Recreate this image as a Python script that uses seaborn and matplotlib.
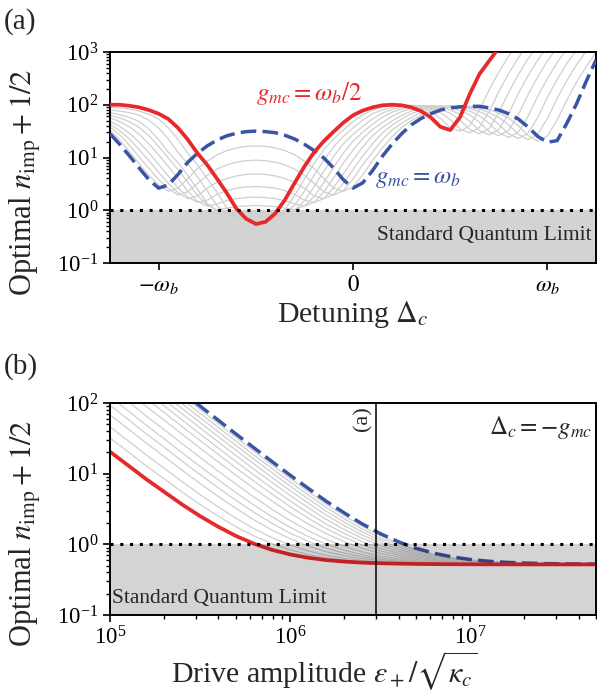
import numpy as np
import matplotlib
matplotlib.use("Agg")
import matplotlib.pyplot as plt
import seaborn as sns

# ---------------- panel (a): detuning scan (values are log10 of n_imp + 1/2) ----------------
detuning = [-1.25, -1.2, -1.15, -1.1, -1.05, -1.0, -0.95, -0.9, -0.85, -0.8,
            -0.75, -0.7, -0.65, -0.6, -0.55, -0.5, -0.45, -0.4, -0.35, -0.3,
            -0.25, -0.2, -0.15, -0.1, -0.05, 0.0, 0.05, 0.1, 0.15, 0.2,
            0.25, 0.3, 0.35, 0.4, 0.45, 0.5, 0.55, 0.6, 0.65, 0.7,
            0.75, 0.8, 0.85, 0.9, 0.95, 1.0, 1.05, 1.1, 1.15, 1.2, 1.25]

red_a = [2.00, 2.00, 1.98, 1.95, 1.90, 1.83, 1.73, 1.56, 1.34, 1.08,
         0.86, 0.60, 0.33, 0.03, -0.16, -0.26, -0.22, -0.06, 0.20, 0.52,
         0.83, 1.10, 1.31, 1.49, 1.66, 1.80, 1.89, 1.95, 1.99, 2.00,
         1.99, 1.95, 1.88, 1.76, 1.58, 1.52, 1.76, 2.20, 2.58, 2.83,
         3.08, 3.30, 3.50, 3.70, 3.88, 4.05, 4.20, 4.35, 4.50, 4.65, 4.80]

blue_a = [1.45, 1.25, 1.03, 0.80, 0.58, 0.42, 0.48, 0.68, 0.91, 1.08,
          1.22, 1.33, 1.41, 1.46, 1.49, 1.50, 1.49, 1.47, 1.42, 1.35,
          1.25, 1.13, 0.99, 0.80, 0.58, 0.42, 0.52, 0.75, 1.02, 1.25,
          1.45, 1.62, 1.74, 1.83, 1.90, 1.94, 1.96, 1.97, 1.97, 1.94,
          1.90, 1.83, 1.73, 1.58, 1.40, 1.29, 1.32, 1.65, 2.02, 2.45, 2.85]

gray_a_055 = [1.95, 1.94, 1.92, 1.88, 1.82, 1.73, 1.56, 1.34, 1.08, 0.86,
              0.60, 0.34, 0.05, -0.12, -0.20, -0.19, -0.20, -0.15, 0.02, 0.28,
              0.59, 0.89, 1.15, 1.35, 1.52, 1.68, 1.81, 1.90, 1.95, 1.99,
              1.99, 1.98, 1.94, 1.87, 1.74, 1.56, 1.50, 1.60, 1.90, 2.28,
              2.62, 2.92, 3.18, 3.40, 3.60, 3.78, 3.95, 4.10, 4.25, 4.40, 4.55]
gray_a_060 = [1.90, 1.88, 1.85, 1.80, 1.71, 1.56, 1.35, 1.10, 0.88, 0.63,
              0.37, 0.09, -0.07, -0.13, -0.12, -0.11, -0.12, -0.13, -0.07, 0.10,
              0.36, 0.67, 0.95, 1.20, 1.40, 1.56, 1.71, 1.83, 1.90, 1.95,
              1.99, 1.99, 1.97, 1.93, 1.85, 1.72, 1.54, 1.47, 1.57, 1.87,
              2.25, 2.59, 2.89, 3.15, 3.37, 3.57, 3.75, 3.92, 4.07, 4.22, 4.37]
gray_a_065 = [1.85, 1.81, 1.76, 1.68, 1.54, 1.34, 1.10, 0.90, 0.66, 0.40,
              0.13, -0.02, -0.06, -0.04, -0.03, -0.02, -0.03, -0.04, -0.06, 0.00,
              0.18, 0.45, 0.74, 1.02, 1.26, 1.44, 1.59, 1.73, 1.84, 1.91,
              1.96, 1.98, 1.98, 1.96, 1.91, 1.84, 1.71, 1.53, 1.45, 1.55,
              1.85, 2.23, 2.57, 2.87, 3.13, 3.35, 3.55, 3.73, 3.90, 4.05, 4.20]
gray_a_070 = [1.80, 1.75, 1.68, 1.57, 1.41, 1.21, 0.99, 0.77, 0.53, 0.28,
              0.10, 0.01, 0.04, 0.07, 0.08, 0.09, 0.08, 0.07, 0.04, 0.01,
              0.08, 0.26, 0.53, 0.81, 1.08, 1.31, 1.48, 1.63, 1.76, 1.86,
              1.92, 1.96, 1.98, 1.98, 1.95, 1.90, 1.82, 1.69, 1.51, 1.43,
              1.53, 1.83, 2.21, 2.55, 2.85, 3.11, 3.33, 3.53, 3.71, 3.88, 4.03]
gray_a_075 = [1.75, 1.68, 1.58, 1.44, 1.26, 1.05, 0.83, 0.60, 0.36, 0.17,
              0.08, 0.12, 0.18, 0.22, 0.24, 0.25, 0.24, 0.22, 0.18, 0.12,
              0.08, 0.15, 0.35, 0.61, 0.89, 1.14, 1.36, 1.53, 1.66, 1.78,
              1.87, 1.93, 1.96, 1.98, 1.97, 1.95, 1.89, 1.81, 1.67, 1.49,
              1.41, 1.51, 1.81, 2.19, 2.53, 2.83, 3.09, 3.31, 3.51, 3.69, 3.86]
gray_a_080 = [1.69, 1.59, 1.46, 1.29, 1.09, 0.87, 0.65, 0.43, 0.25, 0.15,
              0.19, 0.30, 0.37, 0.42, 0.44, 0.45, 0.44, 0.42, 0.37, 0.30,
              0.19, 0.15, 0.22, 0.43, 0.69, 0.96, 1.20, 1.41, 1.57, 1.69,
              1.80, 1.88, 1.93, 1.96, 1.98, 1.96, 1.94, 1.88, 1.79, 1.65,
              1.47, 1.38, 1.48, 1.78, 2.16, 2.50, 2.80, 3.06, 3.28, 3.48, 3.66]
gray_a_085 = [1.63, 1.51, 1.35, 1.15, 0.94, 0.72, 0.51, 0.33, 0.22, 0.27,
              0.42, 0.53, 0.60, 0.65, 0.68, 0.69, 0.68, 0.65, 0.60, 0.53,
              0.42, 0.27, 0.22, 0.30, 0.51, 0.77, 1.03, 1.26, 1.46, 1.61,
              1.73, 1.83, 1.90, 1.94, 1.96, 1.98, 1.96, 1.93, 1.87, 1.78,
              1.63, 1.45, 1.36, 1.46, 1.76, 2.14, 2.48, 2.78, 3.04, 3.26, 3.46]
gray_a_090 = [1.58, 1.43, 1.23, 1.01, 0.79, 0.58, 0.41, 0.29, 0.35, 0.51,
              0.66, 0.78, 0.86, 0.91, 0.94, 0.95, 0.94, 0.91, 0.86, 0.78,
              0.66, 0.51, 0.35, 0.29, 0.37, 0.59, 0.86, 1.10, 1.33, 1.52,
              1.65, 1.76, 1.85, 1.91, 1.95, 1.97, 1.97, 1.95, 1.92, 1.85,
              1.76, 1.62, 1.44, 1.34, 1.44, 1.74, 2.12, 2.46, 2.76, 3.02, 3.24]
gray_a_095 = [1.52, 1.33, 1.11, 0.88, 0.66, 0.48, 0.36, 0.42, 0.60, 0.79,
              0.93, 1.05, 1.13, 1.18, 1.21, 1.22, 1.21, 1.18, 1.13, 1.05,
              0.93, 0.79, 0.60, 0.42, 0.36, 0.45, 0.67, 0.94, 1.18, 1.39,
              1.57, 1.70, 1.80, 1.88, 1.93, 1.95, 1.97, 1.97, 1.95, 1.91,
              1.84, 1.75, 1.60, 1.42, 1.31, 1.41, 1.71, 2.09, 2.43, 2.73, 2.99]
gray_a = [gray_a_055, gray_a_060, gray_a_065, gray_a_070, gray_a_075,
          gray_a_080, gray_a_085, gray_a_090, gray_a_095]

# ---------------- panel (b): drive-amplitude scan at Delta_c = -g_mc ----------------
drive = [1.00e5, 1.26e5, 1.58e5, 2.00e5, 2.51e5, 3.16e5, 3.98e5, 5.01e5, 6.31e5, 7.94e5,
         1.00e6, 1.26e6, 1.58e6, 2.00e6, 2.51e6, 3.16e6, 3.98e6, 5.01e6, 6.31e6, 7.94e6,
         1.00e7, 1.26e7, 1.58e7, 2.00e7, 2.51e7, 3.16e7, 3.98e7, 5.01e7]

red_b = [20.4, 13.1, 8.44, 5.52, 3.67, 2.51, 1.78, 1.31, 1.02, 0.835,
         0.719, 0.646, 0.599, 0.570, 0.551, 0.540, 0.533, 0.528, 0.525, 0.523,
         0.522, 0.521, 0.521, 0.520, 0.520, 0.520, 0.520, 0.520]
blue_b = [901, 569, 359, 227, 143, 90.5, 57.3, 36.3, 23.1, 14.8,
          9.52, 6.20, 4.10, 2.78, 1.95, 1.42, 1.09, 0.878, 0.746, 0.663,
          0.610, 0.577, 0.556, 0.543, 0.534, 0.529, 0.526, 0.524]

gray_b_01 = [32.0, 20.4, 13.0, 8.43, 5.50, 3.67, 2.51, 1.77, 1.31, 1.02,
             0.835, 0.719, 0.645, 0.599, 0.570, 0.552, 0.540, 0.533, 0.528, 0.525,
             0.523, 0.522, 0.521, 0.521, 0.521, 0.520, 0.520, 0.520]
gray_b_02 = [46.0, 29.2, 18.6, 11.9, 7.73, 5.07, 3.39, 2.33, 1.66, 1.24,
             0.975, 0.807, 0.701, 0.634, 0.592, 0.566, 0.549, 0.538, 0.531, 0.527,
             0.525, 0.523, 0.522, 0.521, 0.521, 0.520, 0.520, 0.520]
gray_b_03 = [68.0, 43.1, 27.4, 17.4, 11.2, 7.27, 4.78, 3.21, 2.21, 1.59,
             1.20, 0.946, 0.789, 0.689, 0.627, 0.588, 0.563, 0.547, 0.537, 0.531,
             0.527, 0.524, 0.523, 0.522, 0.521, 0.521, 0.520, 0.520]
gray_b_04 = [92.5, 58.6, 37.1, 23.6, 15.1, 9.72, 6.33, 4.18, 2.83, 1.98,
             1.44, 1.10, 0.886, 0.751, 0.666, 0.612, 0.578, 0.557, 0.543, 0.535,
             0.529, 0.526, 0.524, 0.522, 0.522, 0.521, 0.521, 0.520]
gray_b_05 = [123, 77.5, 49.1, 31.1, 19.8, 12.7, 8.22, 5.38, 3.58, 2.45,
             1.74, 1.29, 1.01, 0.826, 0.713, 0.642, 0.597, 0.569, 0.551, 0.539,
             0.532, 0.528, 0.525, 0.523, 0.522, 0.521, 0.521, 0.521]
gray_b_06 = [166, 105, 66.2, 41.9, 26.6, 17.0, 10.9, 7.09, 4.66, 3.13,
             2.17, 1.56, 1.18, 0.934, 0.781, 0.685, 0.624, 0.586, 0.561, 0.546,
             0.537, 0.530, 0.527, 0.524, 0.523, 0.522, 0.521, 0.521]
gray_b_07 = [226, 143, 90.1, 57.0, 36.2, 23.0, 14.7, 9.48, 6.17, 4.09,
             2.77, 1.94, 1.42, 1.09, 0.877, 0.745, 0.662, 0.610, 0.577, 0.556,
             0.543, 0.534, 0.529, 0.526, 0.524, 0.522, 0.521, 0.521]
gray_b_08 = [291, 184, 116, 73.3, 46.5, 29.5, 18.8, 12.0, 7.80, 5.12,
             3.42, 2.35, 1.67, 1.25, 0.980, 0.810, 0.703, 0.635, 0.593, 0.566,
             0.549, 0.538, 0.532, 0.527, 0.525, 0.523, 0.522, 0.521]
gray_b_09 = [361, 228, 144, 90.9, 57.6, 36.5, 23.2, 14.8, 9.56, 6.23,
             4.12, 2.79, 1.95, 1.42, 1.09, 0.880, 0.747, 0.663, 0.610, 0.577,
             0.556, 0.543, 0.534, 0.529, 0.526, 0.524, 0.522, 0.521]
gray_b_10 = [441, 279, 176, 111, 70.2, 44.5, 28.3, 18.0, 11.5, 7.49,
             4.92, 3.30, 2.27, 1.62, 1.22, 0.960, 0.798, 0.695, 0.630, 0.590,
             0.564, 0.548, 0.538, 0.531, 0.527, 0.524, 0.523, 0.522]
gray_b_11 = [526, 332, 210, 132, 83.7, 53.0, 33.6, 21.4, 13.7, 8.84,
             5.77, 3.83, 2.61, 1.84, 1.35, 1.05, 0.851, 0.729, 0.652, 0.603,
             0.573, 0.553, 0.541, 0.533, 0.528, 0.525, 0.523, 0.522]
gray_b_12 = [616, 389, 245, 155, 98.0, 62.0, 39.3, 25.0, 15.9, 10.3,
             6.67, 4.40, 2.97, 2.06, 1.50, 1.14, 0.908, 0.765, 0.674, 0.618,
             0.582, 0.559, 0.545, 0.535, 0.530, 0.526, 0.524, 0.522]
gray_b_13 = [711, 449, 283, 179, 113, 71.5, 45.3, 28.8, 18.3, 11.8,
             7.62, 5.00, 3.35, 2.30, 1.65, 1.23, 0.968, 0.803, 0.698, 0.633,
             0.591, 0.565, 0.548, 0.538, 0.531, 0.527, 0.524, 0.523]
gray_b_14 = [806, 509, 321, 203, 128, 81.0, 51.3, 32.5, 20.7, 13.3,
             8.57, 5.60, 3.72, 2.54, 1.80, 1.33, 1.03, 0.840, 0.722, 0.648,
             0.601, 0.571, 0.552, 0.540, 0.533, 0.528, 0.525, 0.523]
gray_b = [gray_b_01, gray_b_02, gray_b_03, gray_b_04, gray_b_05, gray_b_06, gray_b_07,
          gray_b_08, gray_b_09, gray_b_10, gray_b_11, gray_b_12, gray_b_13, gray_b_14]

RED = "#e8292b"
BLUE = "#3a54a4"
GRAY = "#cfcfcf"
SQL_GRAY = "#d3d3d3"

sns.set_theme(style="ticks")
plt.rcParams["font.family"] = ["Liberation Serif", "DejaVu Serif"]
plt.rcParams["mathtext.fontset"] = "stix"
plt.rcParams["axes.edgecolor"] = "black"
plt.rcParams["axes.linewidth"] = 1.4
for ax_ in ("xtick", "ytick"):
    plt.rcParams[ax_ + ".color"] = "black"
    plt.rcParams[ax_ + ".direction"] = "out"
    plt.rcParams[ax_ + ".major.size"] = 5
    plt.rcParams[ax_ + ".major.width"] = 1.2
    plt.rcParams[ax_ + ".minor.size"] = 3
    plt.rcParams[ax_ + ".minor.width"] = 1.0
    plt.rcParams[ax_ + ".labelsize"] = 16.5

fig = plt.figure(figsize=(5.97, 6.96), dpi=100)
ax1 = fig.add_axes([0.1843, 0.6221, 0.8141, 0.3032])
ax2 = fig.add_axes([0.1843, 0.1164, 0.8141, 0.3046])

dotted = (0, (1, 2.2))
ylab = r"Optimal $n_{\rm imp}+1/2$"

# ---- panel (a) ----
ax1.set_yscale("log")
ax1.axhspan(1e-1, 1, color=SQL_GRAY, zorder=0, lw=0)
for g in gray_a:
    sns.lineplot(x=detuning, y=10 ** np.array(g), ax=ax1, color=GRAY, lw=0.9,
                 estimator=None, sort=False, legend=False, zorder=1)
sns.lineplot(x=detuning, y=10 ** np.array(blue_a), ax=ax1, color=BLUE, lw=2.5,
             estimator=None, sort=False, legend=False, zorder=3, linestyle=(0, (4.5, 1.8)))
sns.lineplot(x=detuning, y=10 ** np.array(red_a), ax=ax1, color=RED, lw=2.7,
             estimator=None, sort=False, legend=False, zorder=4)
ax1.axhline(1, color="black", lw=2.2, ls=dotted, zorder=5)

ax1.set_xlim(-1.25, 1.25)
ax1.set_ylim(1e-1, 1e3)
ax1.set_xticks([-1, 0, 1], labels=[r"$-\omega_b$", r"$0$", r"$\omega_b$"])
ax1.set_xlabel(r"Detuning $\Delta_c$", fontsize=21.5, labelpad=2)
ax1.set_ylabel(ylab, fontsize=22)
ax1.yaxis.set_label_coords(-0.138, 0.38)

ax1.text(-0.50, 10 ** 2.22, r"$g_{mc}=\omega_b/2$", color=RED, fontsize=18,
         ha="left", va="center")
ax1.text(0.115, 10 ** 0.6, r"$g_{mc}=\omega_b$", color=BLUE, fontsize=18,
         ha="left", va="center")
ax1.text(0.99, 0.13, "Standard Quantum Limit", transform=ax1.transAxes,
         fontsize=15.5, ha="right", va="center")

# ---- panel (b) ----
ax2.set_xscale("log")
ax2.set_yscale("log")
for g in gray_b:
    sns.lineplot(x=drive, y=g, ax=ax2, color=GRAY, lw=0.9,
                 estimator=None, sort=False, legend=False, zorder=1)
sns.lineplot(x=drive, y=blue_b, ax=ax2, color=BLUE, lw=2.5,
             estimator=None, sort=False, legend=False, zorder=2, linestyle=(0, (4.5, 1.8)))
sns.lineplot(x=drive, y=red_b, ax=ax2, color=RED, lw=2.7,
             estimator=None, sort=False, legend=False, zorder=2.5)
ax2.axhspan(1e-1, 1, color="black", alpha=0.17, zorder=3, lw=0)
ax2.axhline(1, color="black", lw=2.2, ls=dotted, zorder=5)
ax2.axvline(3e6, color="black", lw=1.1, zorder=5)

ax2.set_xlim(1e5, 5e7)
ax2.set_ylim(1e-1, 1e2)
ax2.set_xlabel(r"Drive amplitude $\epsilon_+/\sqrt{\kappa_c}$", fontsize=21.5, labelpad=0)
ax2.xaxis.label.set_x(0.442)
ax2.set_ylabel(ylab, fontsize=22)
ax2.yaxis.set_label_coords(-0.138, 0.385)

ax2.text(0.004, 0.08, "Standard Quantum Limit", transform=ax2.transAxes,
         fontsize=15.5, ha="left", va="center", zorder=6)
ax2.text(0.992, 0.885, r"$\Delta_c=-g_{mc}$", transform=ax2.transAxes,
         fontsize=18, ha="right", va="center")
ax2.text(0.541, 0.985, "(a)", transform=ax2.transAxes, fontsize=16,
         rotation=90, ha="right", va="top")

fig.text(0.006, 0.988, "(a)", fontsize=21, ha="left", va="top")
fig.text(0.006, 0.493, "(b)", fontsize=21, ha="left", va="top")

fig.savefig("out.png", dpi=100)
